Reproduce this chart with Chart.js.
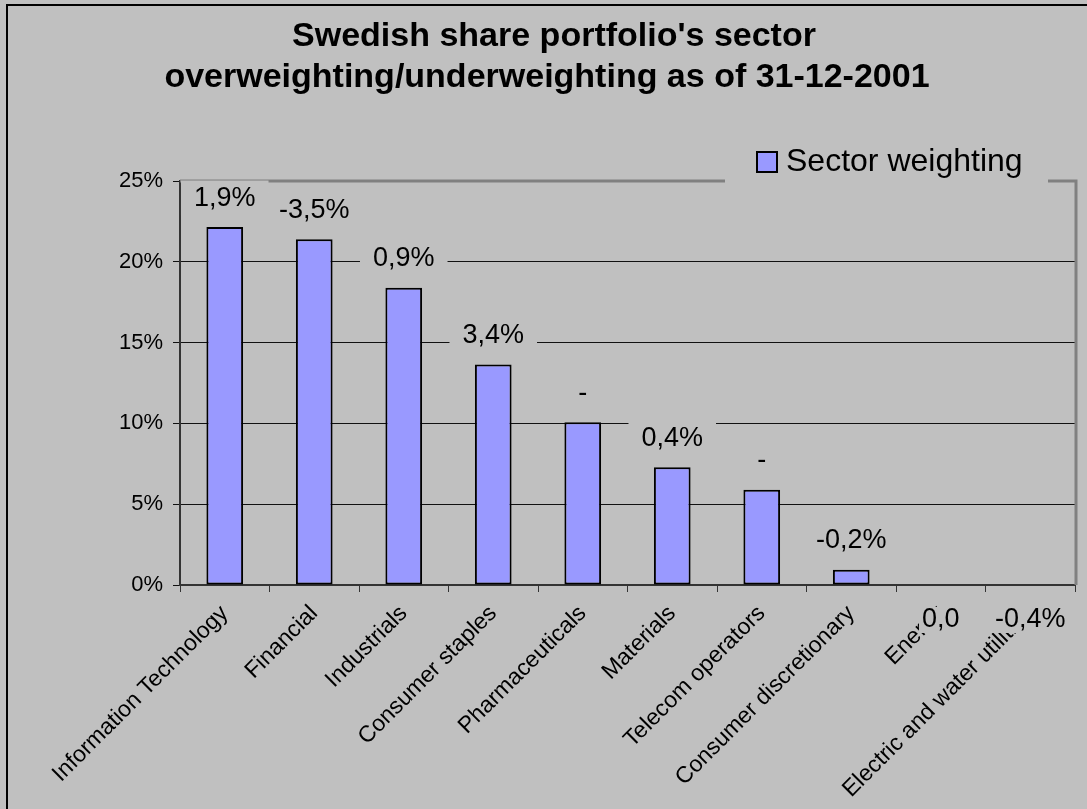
<!DOCTYPE html>
<html>
<head>
<meta charset="utf-8">
<title>Swedish share portfolio sector weighting</title>
<script src="https://cdn.jsdelivr.net/npm/chart.js@4.4.1/dist/chart.umd.min.js"></script>
<style>
    html, body { margin: 0; padding: 0; background: #c0c0c0; }
    #wrap { width: 1087px; height: 809px; position: relative; }
</style>
</head>
<body>
<div id="wrap"><canvas id="sectorChart" width="1087" height="809"></canvas></div>
<script>
// data
const sectors = ['Information Technology', 'Financial', 'Industrials', 'Consumer staples', 'Pharmaceuticals',
    'Materials', 'Telecom operators', 'Consumer discretionary', 'Energy', 'Electric and water utilities'];
const weights = [22.15, 21.4, 18.4, 13.65, 10.07, 7.28, 5.9, 0.95, 0, 0];
const overUnder = ['1,9%', '-3,5%', '0,9%', '3,4%', '-', '0,4%', '-', '-0,2%', '0,0', '-0,4%'];
const yTicks = [0, 5, 10, 15, 20, 25];
const titleLines = ["Swedish share portfolio's sector", 'overweighting/underweighting as of 31-12-2001'];

const BG = '#c0c0c0';
const FONT = '"Liberation Sans", Arial, sans-serif';

// frame, title, plot border, labels above bars and the legend
const decorPlugin = {
    id: 'decor',
    beforeDatasetsDraw(chart) {
        const ctx = chart.ctx;
        const a = chart.chartArea;
        ctx.save();
        ctx.strokeStyle = '#808080';
        ctx.lineWidth = 3;
        ctx.beginPath();
        ctx.moveTo(a.left, a.top);
        ctx.lineTo(a.right + 1, a.top);
        ctx.lineTo(a.right + 1, a.bottom);
        ctx.stroke();
        ctx.restore();
    },
    afterDraw(chart) {
        const ctx = chart.ctx;
        const meta = chart.getDatasetMeta(0);
        ctx.save();

        // outer frame (only top and left are in the picture)
        ctx.strokeStyle = '#000';
        ctx.lineWidth = 2;
        ctx.beginPath();
        ctx.moveTo(7, 820);
        ctx.lineTo(7, 5);
        ctx.lineTo(1100, 5);
        ctx.stroke();

        // title
        ctx.fillStyle = '#000';
        ctx.font = 'bold 34px ' + FONT;
        ctx.textAlign = 'center';
        ctx.textBaseline = 'middle';
        ctx.fillText(titleLines[0], 554, 37);
        ctx.fillText(titleLines[1], 547, 78);

        // value labels with a grey box behind them
        ctx.font = '27px ' + FONT;
        meta.data.forEach((bar, i) => {
            const txt = overUnder[i];
            const zero = weights[i] === 0;
            const y = zero ? bar.y + 35 : bar.y - 29;
            const tw = Math.max(ctx.measureText(txt).width, 10);
            const w = tw + (zero ? 6 : 26);
            const h = zero ? 26 : 35;
            ctx.fillStyle = BG;
            ctx.fillRect(bar.x - w / 2, y - h / 2, w, h);
            ctx.fillStyle = '#000';
            ctx.fillText(txt, bar.x, y);
        });

        // legend
        const ds = chart.data.datasets[0];
        ctx.fillStyle = BG;
        ctx.fillRect(725, 150, 323, 36);
        ctx.fillStyle = ds.backgroundColor;
        ctx.fillRect(757, 152, 20, 20);
        ctx.strokeStyle = '#000';
        ctx.lineWidth = 2;
        ctx.strokeRect(757, 152, 20, 20);
        ctx.fillStyle = '#000';
        ctx.font = '32px ' + FONT;
        ctx.textAlign = 'left';
        ctx.fillText(ds.label, 786, 162);
        ctx.restore();
    }
};

document.addEventListener('DOMContentLoaded', function() {
    const ctx = document.getElementById('sectorChart').getContext('2d');

    new Chart(ctx, {
        type: 'bar',
        data: {
            labels: sectors,
            datasets: [{
                label: 'Sector weighting',
                data: weights,
                backgroundColor: '#9999ff',
                borderColor: '#000',
                borderWidth: 2,
                borderSkipped: false,
                barPercentage: 0.41,
                categoryPercentage: 1
            }]
        },
        options: {
            responsive: false,
            animation: false,
            layout: { padding: { left: 0, right: 12, top: 181, bottom: 0 } },
            plugins: {
                legend: { display: false },
                tooltip: { enabled: false },
                title: { display: false }
            },
            scales: {
                x: {
                    grid: { drawOnChartArea: false, drawTicks: true, tickLength: 7, tickColor: '#333', offset: true },
                    border: { color: '#333', width: 2 },
                    ticks: {
                        color: '#000',
                        font: { family: FONT, size: 23 },
                        maxRotation: 45,
                        minRotation: 45,
                        autoSkip: false,
                        padding: 8
                    },
                    afterFit(scale) { scale.height = 224; }
                },
                y: {
                    min: 0,
                    max: 25,
                    afterBuildTicks(scale) { scale.ticks = yTicks.map(v => ({ value: v })); },
                    grid: {
                        color: c => (c.tick && c.tick.value === 25) ? 'rgba(0,0,0,0)' : '#111',
                        tickColor: '#111',
                        tickLength: 7,
                        lineWidth: 1
                    },
                    border: { color: '#333', width: 2 },
                    ticks: {
                        color: '#000',
                        font: { family: FONT, size: 22 },
                        padding: 10,
                        callback: v => v + '%'
                    },
                    afterFit(scale) { scale.width = 180; }
                }
            }
        },
        plugins: [decorPlugin]
    });
});
</script>
</body>
</html>
